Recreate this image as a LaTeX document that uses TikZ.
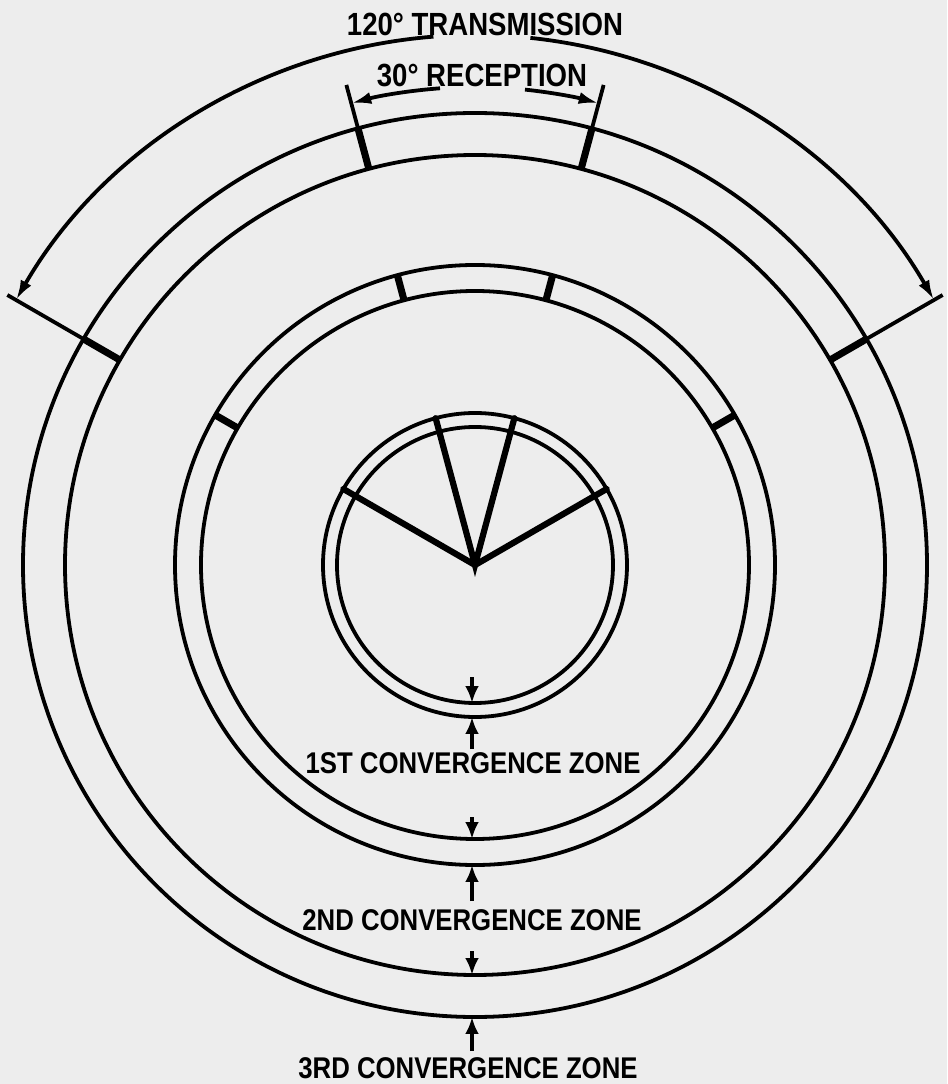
\documentclass[tikz,border=0pt]{standalone}
\usepackage{fontspec}
\setmainfont{Liberation Sans}
\newfontfamily\zonefont[FakeStretch=0.86]{Liberation Sans}
\usepackage{tikz}
\usetikzlibrary{arrows.meta}

\begin{document}
\begin{tikzpicture}[>=Latex,x=0.025cm,y=0.025cm,line width=2.7pt,
    zone/.style={font=\zonefont\bfseries\fontsize{21.3}{24}\selectfont,inner sep=0pt},
    span/.style={font=\zonefont\bfseries\fontsize{22.8}{25}\selectfont,inner sep=0pt},
    tick/.style={line width=5pt},
    ray/.style={line width=4.4pt,line cap=round},
    dim/.style={-{Latex[length=0.5cm,width=0.3cm]}},
    cz/.style={-{Latex[length=0.42cm,width=0.34cm]},line width=2.8pt}]
  \fill[black!7] (-475,-519) rectangle (472,565);
  \useasboundingbox (-475,-519) rectangle (472,565);
  \coordinate (o) at (0,0);
  \draw (o) circle[radius=138] (o) circle[radius=152];
  \draw (o) circle[radius=274] (o) circle[radius=300];
  \draw (o) circle[radius=410] (o) circle[radius=452];
  \draw[ray] (30:152) -- (o) -- (150:152);
  \draw[ray] (75:152) -- (o) -- (105:152);
  \draw[tick] (30:274) -- (30:300) (75:274) -- (75:300) (105:274) -- (105:300) (150:274) -- (150:300);
  \draw[tick] (30:410) -- (30:452) (75:410) -- (75:452) (105:410) -- (105:452) (150:410) -- (150:452);
  \draw (30:452) -- (30:540) (150:452) -- (150:540);
  \draw (75:452) -- (75:497) (105:452) -- (105:497);
  \draw[dim] (94.5:530) arc[start angle=94.5,end angle=150,radius=530];
  \draw[dim] (84:530) arc[start angle=84,end angle=30,radius=530];
  \draw[dim] (94.2:478) arc[start angle=94.2,end angle=105,radius=478];
  \draw[dim] (84:478) arc[start angle=84,end angle=75,radius=478];
  \node[span] (trans) at (10,541) {120° TRANSMISSION};
  \node[span] (recep) at (7,490) {30° RECEPTION};
  \draw[cz] (-3,-112) -- (-3,-138);
  \draw[cz] (-3,-184) -- (-3,-152);
  \node[zone] (zone1) at (-2,-198) {1ST CONVERGENCE ZONE};
  \draw[cz] (-3,-252) -- (-3,-274);
  \draw[cz] (-3,-336) -- (-3,-300);
  \node[zone] (zone2) at (-3,-355) {2ND CONVERGENCE ZONE};
  \draw[cz] (-3,-386) -- (-3,-410);
  \draw[cz] (-3,-486) -- (-3,-452);
  \node[zone] (zone3) at (-7,-503) {3RD CONVERGENCE ZONE};
\end{tikzpicture}
\end{document}
